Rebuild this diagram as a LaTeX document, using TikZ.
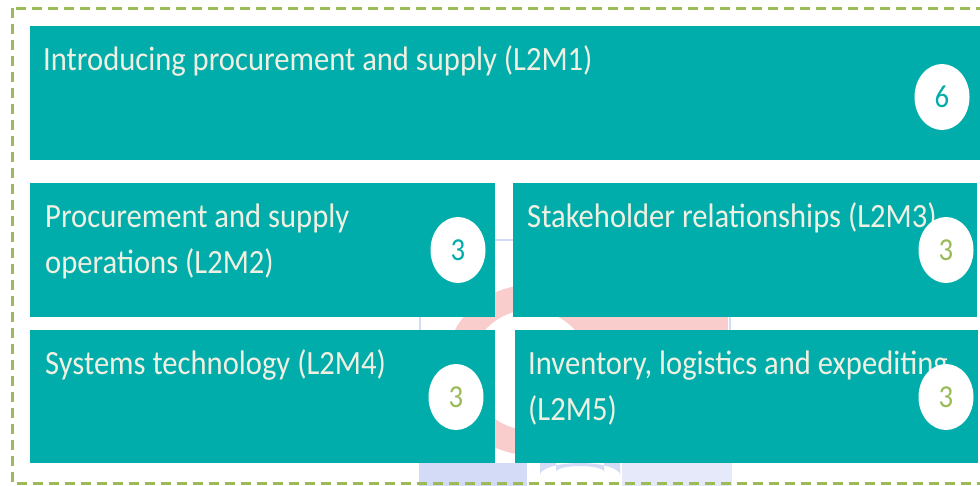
\documentclass[tikz,border=0pt]{standalone}
\usepackage{fontspec}
\setmainfont{Carlito}[FakeStretch=0.90]
\usetikzlibrary{shapes.geometric}
\definecolor{tealbox}{RGB}{0,173,170}
\definecolor{leafgreen}{RGB}{155,187,89}
\definecolor{creamtext}{RGB}{240,240,226}
\definecolor{markpink}{RGB}{250,205,205}
\definecolor{markblue}{RGB}{212,219,246}
\begin{document}
\begin{tikzpicture}[x=1pt,y=-1pt,
  modbox/.style={draw=none,fill=tealbox,anchor=north west,inner sep=0pt},
  modtext/.style={anchor=base west,inner sep=0pt,text=creamtext,
    font=\fontsize{34}{46}\selectfont},
  credit/.style={ellipse,fill=white,inner sep=0pt,minimum width=55pt,
    minimum height=66pt,font=\fontsize{32}{36}\selectfont},
]
\useasboundingbox (0,0) rectangle (980,485);
\clip (0,0) rectangle (980,485);

% faint logo behind the module boxes
\fill[markpink] (530,370) circle (85);
\fill[white] (530,370) circle (60);
\fill[markpink] (577,290) rectangle (728,345);
\draw[markblue,line width=1.2pt] (420,240) rectangle (730,500);
\fill[markblue] (420,463) rectangle (527,490);
\fill[markblue] (540,463) -- (540,475) arc[start angle=180,end angle=0,x radius=40,y radius=-12] -- (620,463) -- (604,463) -- (604,472) arc[start angle=0,end angle=180,x radius=24,y radius=-6] -- (556,463) -- cycle;
\fill[markblue!60] (622,463) rectangle (732,490);

% dashed frame
\draw[leafgreen,line width=3pt,dash pattern=on 10pt off 6pt] (12,8) rectangle (1000,483);

% module boxes
\node[modbox,minimum width=970pt,minimum height=134pt] (m1) at (30,26) {};
\node[modbox,minimum width=465pt,minimum height=134pt] (m2) at (30,183) {};
\node[modbox,minimum width=464pt,minimum height=134pt] (m3) at (513,183) {};
\node[modbox,minimum width=465pt,minimum height=133pt] (m4) at (30,330) {};
\node[modbox,minimum width=463pt,minimum height=133pt] (m5) at (515,330) {};

% module titles
\node[modtext] (t1) at (43,70) {Introducing procurement and supply (L2M1)};
\node[modtext] (t2a) at (45,227) {Procurement and supply};
\node[modtext] (t2b) at (45,273) {operations (L2M2)};
\node[modtext] (t3) at (527,227) {Stakeholder relationships (L2M3)};
\node[modtext] (t4) at (45,374) {Systems technology (L2M4)};
\node[modtext] (t5a) at (528,374) {Inventory, logistics and expediting};
\node[modtext] (t5b) at (528,420) {(L2M5)};

% credit values
\node[credit,text=tealbox] (c1) at (942,97) {6};
\node[credit,text=tealbox] (c2) at (458,250) {3};
\node[credit,text=leafgreen] (c3) at (946,250) {3};
\node[credit,text=leafgreen] (c4) at (456,397) {3};
\node[credit,text=leafgreen] (c5) at (946,397) {3};
\end{tikzpicture}
\end{document}
